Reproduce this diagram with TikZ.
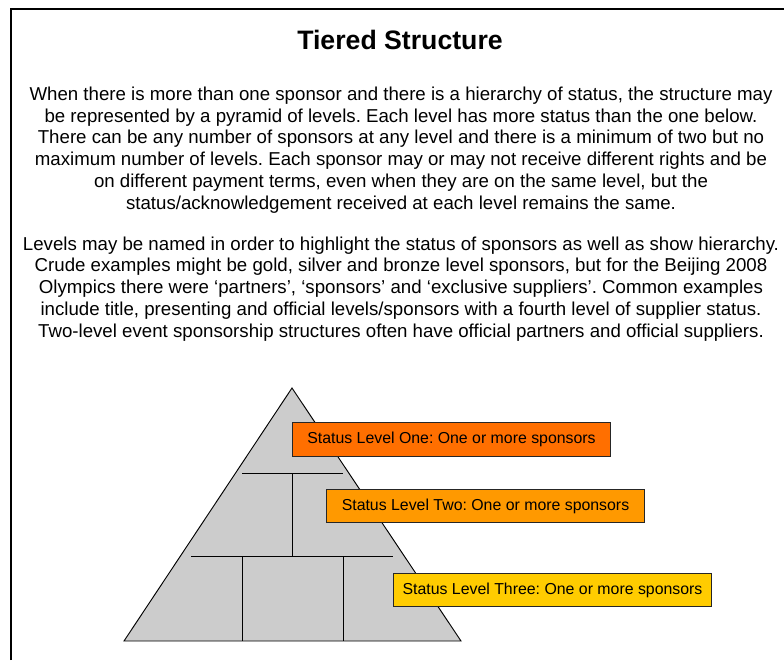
\documentclass[tikz,border=0pt]{standalone}
\usepackage{fontspec}
\setmainfont{Liberation Sans}
\usepackage{xcolor}
\usetikzlibrary{positioning}
\frenchspacing

\definecolor{lvlone}{HTML}{FF6F00}
\definecolor{lvltwo}{HTML}{FF9900}
\definecolor{lvlthree}{HTML}{FFCC00}
\definecolor{pyrgray}{HTML}{CCCCCC}

\begin{document}
\begin{tikzpicture}[x=0.75pt,y=-0.75pt]
        \useasboundingbox (0,0) rectangle (784,660);

        \edef\boxwidth{239pt}
        \tikzstyle{bodytext}=[align=center,inner sep=0pt,font=\fontsize{14}{16.4}\selectfont]
        \tikzstyle{levelbox}=[draw=black!85,line width=0.7pt,minimum width=\boxwidth,minimum height=25pt,inner sep=0pt,font=\fontsize{11.9}{13}\selectfont]

        %% Frame (cut at right and bottom)
        \draw[line width=1.1pt] (11,660) -- (11,9) -- (784,9);

        %% Title and text
        \node[anchor=base,font=\fontsize{20}{24}\selectfont\bfseries] (title) at (400,50) {Tiered Structure};
        \node[bodytext] (para1) at (401,150) {When there is more than one sponsor and there is a hierarchy of status, the structure may\\
            be represented by a pyramid of levels. Each level has more status than the one below.\\
            There can be any number of sponsors at any level and there is a minimum of two but no\\
            maximum number of levels. Each sponsor may or may not receive different rights and be\\
            on different payment terms, even when they are on the same level, but the\\
            status/acknowledgement received at each level remains the same.};
        \node[bodytext] (para2) at (401,289) {Levels may be named in order to highlight the status of sponsors as well as show hierarchy.\\
            Crude examples might be gold, silver and bronze level sponsors, but for the Beijing 2008\\
            Olympics there were ‘partners’, ‘sponsors’ and ‘exclusive suppliers’. Common examples\\
            include title, presenting and official levels/sponsors with a fourth level of supplier status.\\
            Two-level event sponsorship structures often have official partners and official suppliers.};

        %% Pyramid
        \coordinate (apex) at (292,388);
        \coordinate (bl) at (124,641);
        \coordinate (br) at (461,641);
        \filldraw[fill=pyrgray,draw=black,line width=0.7pt] (apex) -- (bl) -- (br) -- cycle;
        \draw[line width=0.7pt] (242,473) -- (343,473);
        \draw[line width=0.7pt] (292,473) -- (292,556);
        \draw[line width=0.7pt] (191,556) -- (393,556);
        \draw[line width=0.7pt] (242,556) -- (242,641);
        \draw[line width=0.7pt] (343,556) -- (343,641);

        %% Level boxes
        \node[levelbox,fill=lvlone] (one) at (451.5,439.5) {Status Level One: One or more sponsors};
        \node[levelbox,fill=lvltwo] (two) at (485.5,506) {Status Level Two: One or more sponsors};
        \node[levelbox,fill=lvlthree] (three) at (552.5,590) {Status Level Three: One or more sponsors};
    \end{tikzpicture}
\end{document}
